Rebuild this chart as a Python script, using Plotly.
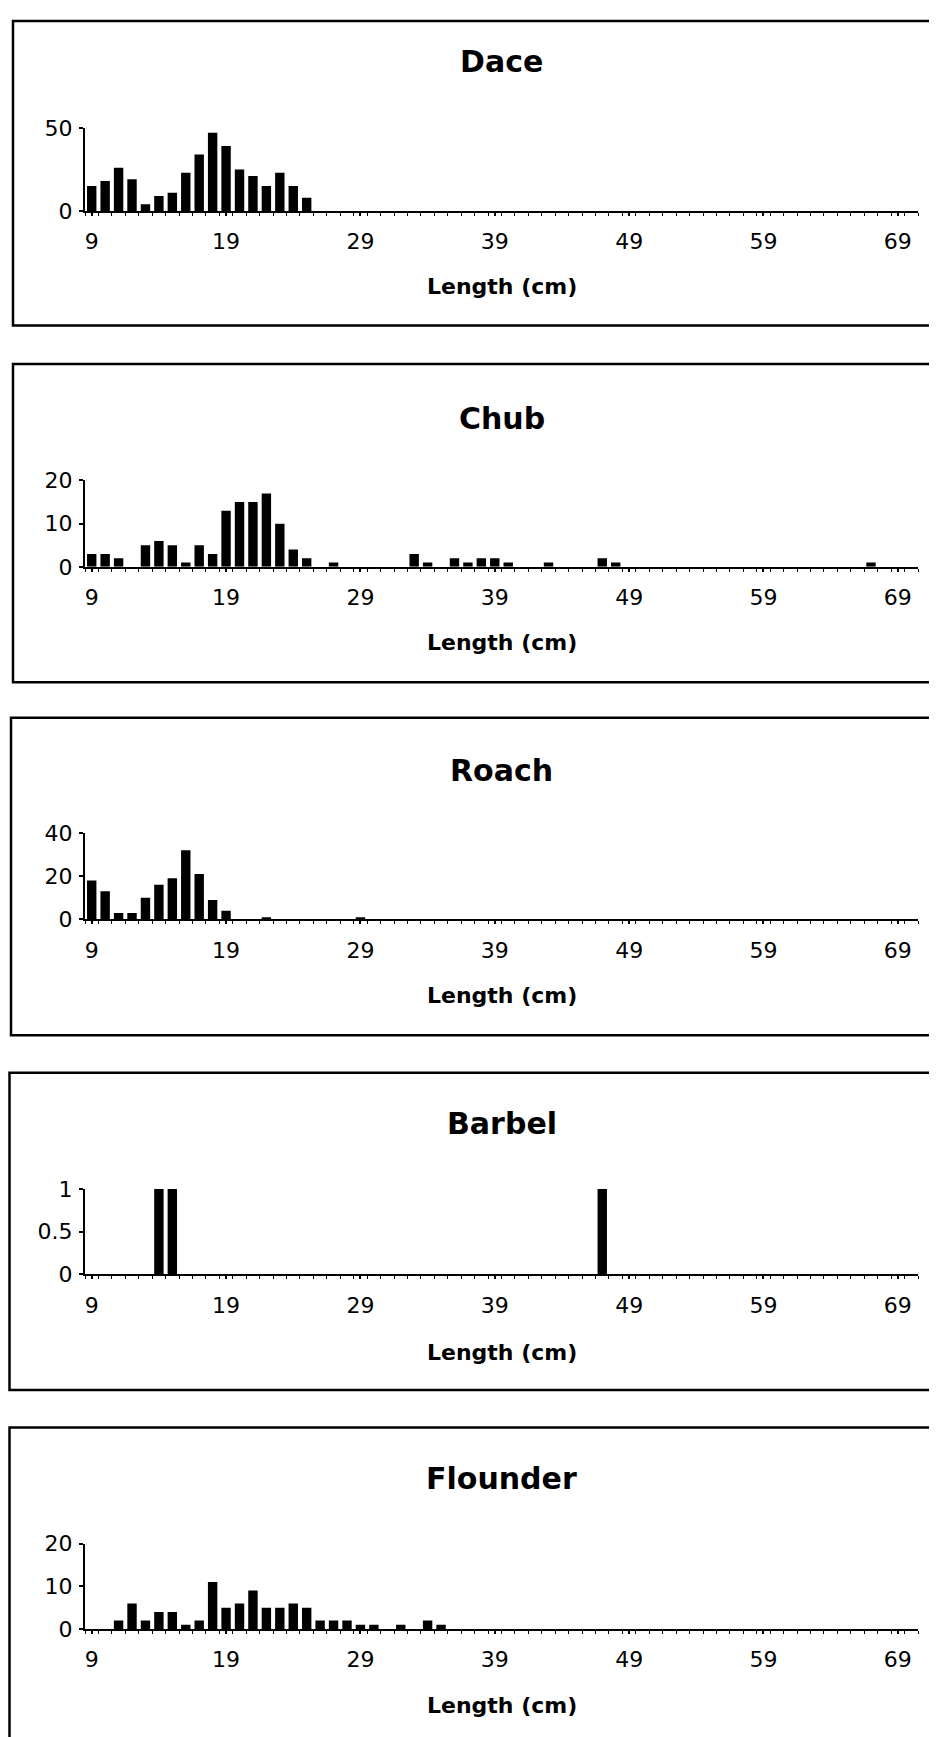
import plotly.graph_objects as go

W, H = 921, 1745

lengths = list(range(9, 71))  # 9 .. 70 cm categories

def counts(d):
    return [d.get(l, 0) for l in lengths]

dace = {9: 15, 10: 18, 11: 26, 12: 19, 13: 4, 14: 9, 15: 11, 16: 23, 17: 34, 18: 47,
        19: 39, 20: 25, 21: 21, 22: 15, 23: 23, 24: 15, 25: 8}
chub = {9: 3, 10: 3, 11: 2, 13: 5, 14: 6, 15: 5, 16: 1, 17: 5, 18: 3, 19: 13, 20: 15,
        21: 15, 22: 17, 23: 10, 24: 4, 25: 2, 27: 1, 33: 3, 34: 1, 36: 2, 37: 1, 38: 2,
        39: 2, 40: 1, 43: 1, 47: 2, 48: 1, 67: 1}
roach = {9: 18, 10: 13, 11: 3, 12: 3, 13: 10, 14: 16, 15: 19, 16: 32, 17: 21, 18: 9,
         19: 4, 22: 1, 29: 1}
barbel = {14: 1, 15: 1, 47: 1}
flounder = {11: 2, 12: 6, 13: 2, 14: 4, 15: 4, 16: 1, 17: 2, 18: 11, 19: 5, 20: 6,
            21: 9, 22: 5, 23: 5, 24: 6, 25: 5, 26: 2, 27: 2, 28: 2, 29: 1, 30: 1,
            32: 1, 34: 2, 35: 1}

species = ["Dace", "Chub", "Roach", "Barbel", "Flounder"]
series = [dace, chub, roach, barbel, flounder]
y_ticks = [[0, 50], [0, 10, 20], [0, 20, 40], [0, 0.5, 1], [0, 10, 20]]
y_tick_text = [["0", "50"], ["0", "10", "20"], ["0", "20", "40"], ["0", "0.5", "1"], ["0", "10", "20"]]
x_tick_vals = [9, 19, 29, 39, 49, 59, 69]
x_title = "Length (cm)"

# layout geometry in figure pixels
x_left, x_right = 77, 910
zero_px = [193.7, 554.8, 912.5, 1272.5, 1632.4]
top_px = [109.4, 467.1, 824.8, 1185.9, 1545.8]
title_px = [42, 404, 761, 1119.5, 1479.5]
axtitle_px = [270, 632, 990, 1352, 1710]
box_top = [1, 349, 708, 1068, 1428]
box_bot = [310, 672, 1030, 1390, 1800]
box_left = [5, 5, 3, 1.5, 1.5]

def px(p):
    return p / W

def py(p):
    return 1 - p / H

FONT = "DejaVu Sans"
fig = go.Figure()
shapes = []
annotations = []
for i, (name, d) in enumerate(zip(species, series)):
    xa = "x" if i == 0 else f"x{i+1}"
    ya = "y" if i == 0 else f"y{i+1}"
    fig.add_trace(go.Bar(x=lengths, y=counts(d), xaxis=xa, yaxis=ya,
                         marker=dict(color="black", line=dict(width=0)),
                         width=0.7, showlegend=False))
    xkey = "xaxis" if i == 0 else f"xaxis{i+1}"
    ykey = "yaxis" if i == 0 else f"yaxis{i+1}"
    fig.layout[xkey] = dict(
        domain=[px(x_left), px(x_right)], anchor=ya,
        range=[8.5, 70.5], tickmode="array", tickvals=x_tick_vals,
        ticks="outside", ticklen=3, tickwidth=1.5, tickcolor="black",
        minor=dict(ticks="outside", tick0=8.5, dtick=1, ticklen=3, tickwidth=1.2, tickcolor="black"),
        showline=True, linecolor="black", linewidth=2, showgrid=False, zeroline=False,
        tickfont=dict(family=FONT, size=22, color="black"), ticklabelstandoff=7,
        fixedrange=True)
    ymax = y_ticks[i][-1]
    fig.layout[ykey] = dict(
        domain=[py(zero_px[i]), py(top_px[i])], anchor=xa,
        range=[0, ymax], tickmode="array", tickvals=y_ticks[i], ticktext=y_tick_text[i],
        ticks="outside", ticklen=4, tickwidth=1.5, tickcolor="black",
        showline=True, linecolor="black", linewidth=2, showgrid=False, zeroline=False,
        tickfont=dict(family=FONT, size=22, color="black"), ticklabelstandoff=2,
        fixedrange=True)
    annotations.append(dict(text=f"<b>{name}</b>", xref="paper", yref="paper",
                            x=px((x_left + x_right) / 2), y=py(title_px[i]),
                            xanchor="center", yanchor="middle", showarrow=False,
                            font=dict(family=FONT, size=30, color="black")))
    annotations.append(dict(text=f"<b>{x_title}</b>", xref="paper", yref="paper",
                            x=px((x_left + x_right) / 2), y=py(axtitle_px[i]),
                            xanchor="center", yanchor="middle", showarrow=False,
                            font=dict(family=FONT, size=22, color="black")))
    shapes.append(dict(type="rect", xref="paper", yref="paper",
                       x0=px(box_left[i]), x1=px(960),
                       y0=py(box_bot[i]), y1=py(box_top[i]),
                       line=dict(color="black", width=2.5), fillcolor="rgba(0,0,0,0)"))

fig.update_layout(width=W, height=H, margin=dict(l=0, r=0, t=0, b=0),
                  paper_bgcolor="white", plot_bgcolor="white", bargap=0.3,
                  shapes=shapes, annotations=annotations)
fig.write_html("out.html")
